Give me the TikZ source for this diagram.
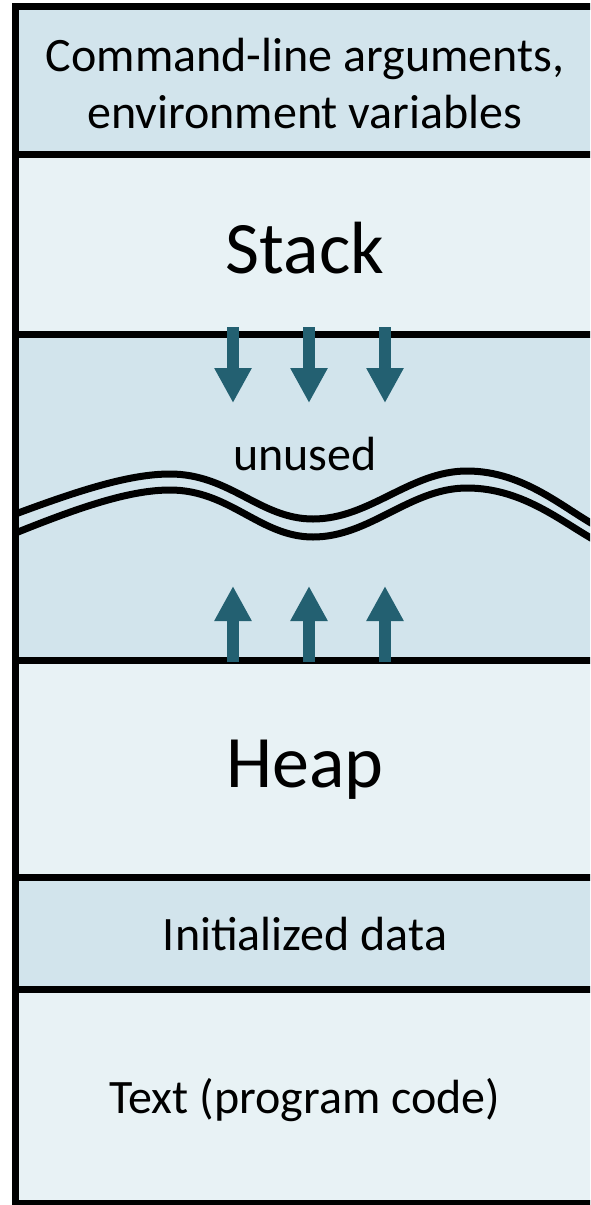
\documentclass[tikz,border=0pt]{standalone}
\usepackage{fontspec}
\setmainfont{Carlito}
\usetikzlibrary{arrows.meta}
\definecolor{banddark}{HTML}{D2E4EC}
\definecolor{bandlight}{HTML}{E8F2F5}
\definecolor{arrowcol}{HTML}{236071}
\tikzset{
  border/.style={line width=7pt, draw=black},
  waveline/.style={line width=7pt, draw=black},
  growarrow/.style={line width=12pt, draw=arrowcol, -{Triangle[width=35pt,length=35pt]}},
  smalltext/.style={font=\fontsize{48}{57}\selectfont, align=center, inner sep=0pt},
  bigtext/.style={font=\fontsize{74}{80}\selectfont, inner sep=0pt},
}
\begin{document}
\begin{tikzpicture}[x=1pt,y=-1pt]
\useasboundingbox (0,0) rectangle (590,1205);
\clip (0,0) rectangle (590,1205);
\fill[white] (0,0) rectangle (590,1205);
% bands
\fill[banddark]  (15.5,6.5) rectangle (600,154);
\fill[bandlight] (15.5,154) rectangle (600,334);
\fill[banddark]  (15.5,334) rectangle (600,660);
\fill[bandlight] (15.5,660) rectangle (600,877);
\fill[banddark]  (15.5,877) rectangle (600,989);
\fill[bandlight] (15.5,989) rectangle (600,1203);
% coordinates
\coordinate (tl) at (15.5,6.5);
\coordinate (bl) at (15.5,1203);
\coordinate (tr) at (600,6.5);
\coordinate (br) at (600,1203);
% separators
\draw[border] (15.5,154) -- (600,154);
\draw[border] (15.5,334) -- (600,334);
\draw[border] (15.5,660) -- (600,660);
\draw[border] (15.5,877) -- (600,877);
\draw[border] (15.5,989) -- (600,989);
% outline
\draw[border, line cap=rect] (tr) -- (tl) -- (bl) -- (br);
% wave (break)
\draw[waveline] (15.5,514) .. controls (80,490) and (130,474) .. (170,474)
  .. controls (230,474) and (260,519) .. (313,519)
  .. controls (370,519) and (410,471) .. (467,471)
  .. controls (525,471) and (565,510) .. (600,528);
\draw[waveline] (15.5,533) .. controls (80,507) and (130,490) .. (170,490)
  .. controls (230,490) and (260,537) .. (313,537)
  .. controls (370,537) and (410,488) .. (467,488)
  .. controls (525,488) and (565,525) .. (600,543);
% arrows
\foreach \x [count=\i] in {233,309,385} {
  \coordinate (ds\i) at (\x,327);
  \coordinate (de\i) at (\x,403);
  \coordinate (us\i) at (\x,662);
  \coordinate (ue\i) at (\x,586);
  \draw[growarrow] (ds\i) -- (de\i);
  \draw[growarrow] (us\i) -- (ue\i);
}
% texts
\node[smalltext] (args) at (305,84) {Command-line arguments,\\environment variables};
\node[bigtext] (stack) at (305,248) {Stack};
\node[smalltext] (unused) at (305,454) {unused};
\node[bigtext] (heap) at (305,770) {Heap};
\node[smalltext] (init) at (305,934) {Initialized data};
\node[smalltext] (text) at (305,1100) {Text (program code)};
\end{tikzpicture}
\end{document}
